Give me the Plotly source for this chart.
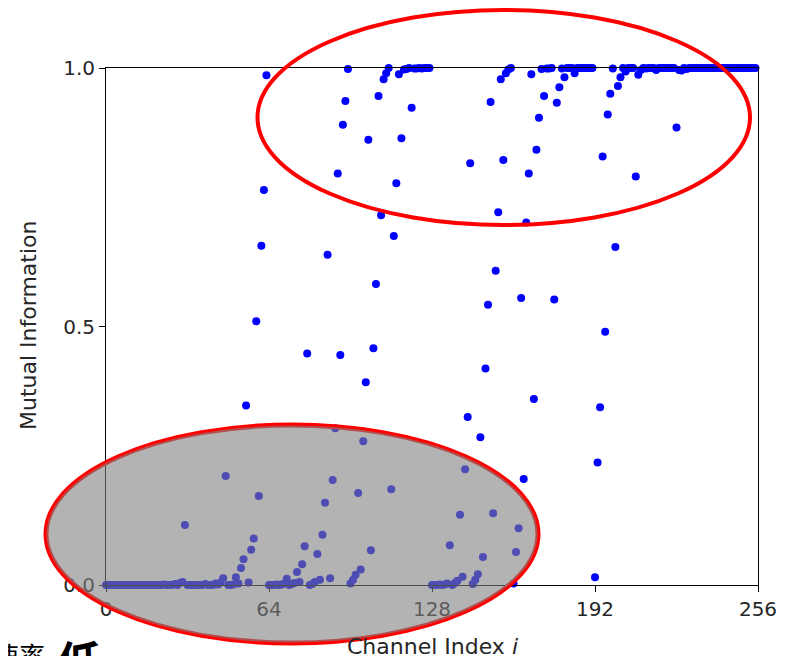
import plotly.graph_objects as go

channel_index = list(range(256))

mutual_info = [
    # 0-15
    0, 0, 0, 0, 0, 0, 0, 0, 0, 0, 0, 0, 0, 0, 0, 0,
    # 16-31
    0, 0, 0, 0, 0, 0, 0, 0.001, 0, 0, 0, 0.002, 0, 0.004, 0.006, 0.116,
    # 32-47
    0, 0, 0, 0, 0, 0, 0, 0.002, 0, 0, 0, 0.003, 0.001, 0.005, 0.013, 0.211,
    # 48-63
    0, 0, 0.001, 0.015, 0.003, 0.033, 0.05, 0.347, 0.005, 0.068, 0.09, 0.51, 0.172, 0.656, 0.764, 0.986,
    # 64-79
    0, 0, 0, 0.001, 0, 0.001, 0.003, 0.012, 0, 0.002, 0.004, 0.025, 0.006, 0.04, 0.075, 0.448,
    # 80-95
    0, 0.002, 0.006, 0.06, 0.01, 0.097, 0.159, 0.639, 0.013, 0.203, 0.303, 0.796, 0.445, 0.89, 0.936, 0.998,
    # 96-111
    0.003, 0.01, 0.02, 0.178, 0.03, 0.278, 0.392, 0.861, 0.067, 0.458, 0.582, 0.946, 0.715, 0.978, 0.99, 1.0,
    # 112-127
    0.185, 0.675, 0.777, 0.988, 0.864, 0.997, 0.998, 1.0, 0.923, 0.999, 0.999, 1.0, 0.999, 1.0, 1.0, 1.0,
    # 128-143
    0, 0, 0, 0.001, 0, 0.001, 0.003, 0.077, 0, 0.004, 0.008, 0.136, 0.016, 0.224, 0.325, 0.816,
    # 144-159
    0.002, 0.01, 0.021, 0.286, 0.054, 0.419, 0.542, 0.934, 0.139, 0.608, 0.721, 0.978, 0.822, 0.99, 0.997, 1.0,
    # 160-175
    0.003, 0.064, 0.11, 0.555, 0.205, 0.701, 0.796, 0.988, 0.36, 0.842, 0.904, 0.998, 0.946, 0.999, 0.999, 1.0,
    # 176-191
    0.552, 0.933, 0.963, 0.999, 0.982, 1.0, 1.0, 1.0, 0.99, 1.0, 1.0, 1.0, 1.0, 1.0, 1.0, 1.0,
    # 192-207
    0.015, 0.237, 0.344, 0.829, 0.49, 0.91, 0.95, 0.999, 0.654, 0.965, 0.982, 1.0, 0.993, 1.0, 1.0, 1.0,
    # 208-223
    0.79, 0.987, 0.996, 1.0, 0.999, 1.0, 1.0, 1.0, 0.996, 1.0, 1.0, 1.0, 1.0, 1.0, 1.0, 1.0,
    # 224-239
    0.885, 0.996, 0.995, 1.0, 0.998, 1.0, 1.0, 1.0, 1.0, 1.0, 1.0, 1.0, 1.0, 1.0, 1.0, 1.0,
    # 240-255
    1.0, 1.0, 1.0, 1.0, 1.0, 1.0, 1.0, 1.0, 1.0, 1.0, 1.0, 1.0, 1.0, 1.0, 1.0, 1.0,
]

x_ticks = [0, 64, 128, 192, 256]
x_tick_labels = ["0", "64", "128", "192", "256"]
y_ticks = [0.0, 0.5, 1.0]
y_tick_labels = ["0.0", "0.5", "1.0"]

# page has an 8px body margin; plot area in page pixels: x 106..758, y 68..585
OFF = 8
W, H = 788 - OFF, 656 - OFF
PLOT_X0, PLOT_X1, PLOT_Y0, PLOT_Y1 = 106, 758, 68, 585
L = PLOT_X0 - OFF
R = (W + OFF) - PLOT_X1
T = PLOT_Y0 - OFF
B = (H + OFF) - PLOT_Y1
PW, PH = PLOT_X1 - PLOT_X0, PLOT_Y1 - PLOT_Y0


def px(xp):
    return (xp - PLOT_X0) / PW


def py(yp):
    return (PLOT_Y1 - yp) / PH


tick_font = dict(family="DejaVu Sans", size=20, color="#262626")
label_font = dict(family="DejaVu Sans", size=22, color="#262626")

fig = go.Figure()
fig.add_trace(go.Scatter(
    x=channel_index, y=mutual_info, mode="markers",
    marker=dict(color="#0000ff", size=8, line=dict(width=0)),
    cliponaxis=False, showlegend=False, hoverinfo="x+y",
))

shapes = [
    # bottom-left ellipse: red outline under a translucent grey fill
    dict(type="circle", xref="paper", yref="paper", layer="above",
         x0=px(46), x1=px(538), y0=py(643), y1=py(425),
         line=dict(color="#ff0000", width=5), fillcolor="rgba(0,0,0,0)"),
    dict(type="circle", xref="paper", yref="paper", layer="above",
         x0=px(46.5), x1=px(537.5), y0=py(642.5), y1=py(425.5),
         line=dict(width=0), fillcolor="rgba(128,128,128,0.6)"),
    # top-right ellipse: red outline only
    dict(type="circle", xref="paper", yref="paper", layer="above",
         x0=px(257.5), x1=px(750), y0=py(225), y1=py(10),
         line=dict(color="#ff0000", width=4), fillcolor="rgba(0,0,0,0)"),
]

annotations = [
    dict(text="Channel Index <i>i</i>", xref="paper", yref="paper",
         x=0.5, y=py(646), xanchor="center", yanchor="middle", showarrow=False,
         font=label_font),
    dict(text="Mutual Information", xref="paper", yref="paper",
         x=px(28), y=py(326), xanchor="center", yanchor="middle", showarrow=False,
         textangle=-90, font=label_font),
    dict(text="速率", xref="paper", yref="paper",
         x=px(47), y=py(634), xanchor="right", yanchor="top", showarrow=False,
         font=dict(family="Noto Sans CJK SC", size=26, color="#000000")),
    dict(text="<b>低</b>", xref="paper", yref="paper",
         x=px(55), y=py(626), xanchor="left", yanchor="top", showarrow=False,
         font=dict(family="Noto Sans CJK SC", size=44, color="#000000")),
]

fig.update_layout(
    width=W, height=H,
    margin=dict(l=L, r=R, t=T, b=B, autoexpand=False),
    paper_bgcolor="white", plot_bgcolor="white",
    shapes=shapes, annotations=annotations,
    xaxis=dict(range=[0, 256], tickmode="array", tickvals=x_ticks, ticktext=x_tick_labels,
               ticks="outside", ticklen=6, tickwidth=1, tickcolor="black",
               showline=True, linecolor="black", linewidth=1, mirror=True,
               showgrid=False, zeroline=False, tickfont=tick_font, automargin=False),
    yaxis=dict(range=[0, 1], tickmode="array", tickvals=y_ticks, ticktext=y_tick_labels,
               ticks="outside", ticklen=6, tickwidth=1, tickcolor="black",
               showline=True, linecolor="black", linewidth=1, mirror=True,
               showgrid=False, zeroline=False, tickfont=tick_font, automargin=False),
)

fig.write_html("out.html")
